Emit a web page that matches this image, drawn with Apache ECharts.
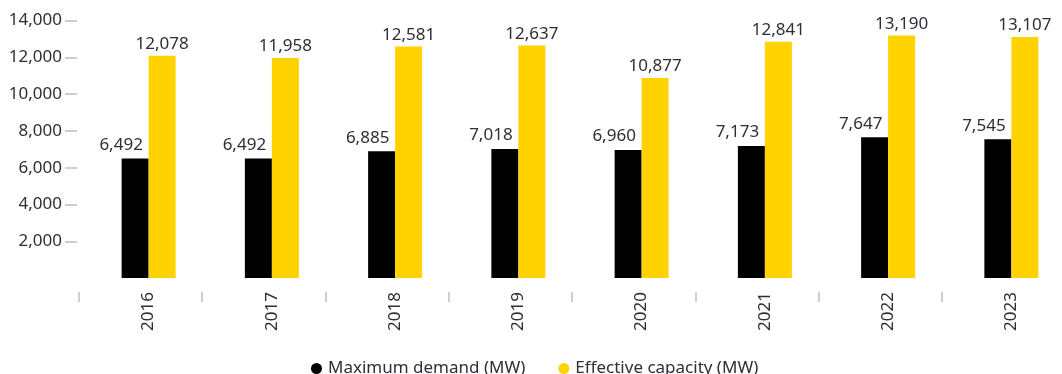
<!DOCTYPE html>
<html>
<head>
<meta charset="utf-8">
<script src="https://cdn.jsdelivr.net/npm/echarts@6/dist/echarts.min.js"></script>
<style>
  html, body { margin: 0; padding: 0; background: #fff; }
  #chart { width: 1062px; height: 374px; }
</style>
</head>
<body>
<div id="chart"></div>
<script>
// chart data
const years = ['2016', '2017', '2018', '2019', '2020', '2021', '2022', '2023']
const maxDemand = [6492, 6492, 6885, 7018, 6960, 7173, 7647, 7545]
const effCapacity = [12078, 11958, 12581, 12637, 10877, 12841, 13190, 13107]
const seriesNames = ['Maximum demand (MW)', 'Effective capacity (MW)']

const textColor = '#2e2e38'
const tickColor = '#b9c0c7'
const fontFamily = '"Noto Sans", sans-serif'

const chart = echarts.init(document.getElementById('chart'))

const fmt = v => v.toLocaleString('en-US')

chart.setOption({
  animation: false,
  textStyle: { fontFamily },
  legend: {
    data: seriesNames,
    left: 306,
    top: 355,
    icon: 'circle',
    itemWidth: 13,
    itemHeight: 11,
    itemGap: 33,
    textStyle: { fontSize: 17, color: textColor, fontFamily }
  },
  grid: [
    // bars
    { left: 87, width: 986, top: 20.5, bottom: 96, outerBoundsMode: 'none' },
    // x ticks (category boundaries)
    { left: 78.5, width: 987, top: 20.5, bottom: 82, outerBoundsMode: 'none' },
    // y ticks / labels
    { left: 77, right: 0, top: 20.5, bottom: 132.7, outerBoundsMode: 'none' }
  ],
  xAxis: [
    {
      type: 'category',
      data: years,
      gridIndex: 0,
      axisLine: { show: false },
      axisTick: { show: false },
      axisLabel: {
        rotate: 90,
        margin: 14,
        fontSize: 17,
        color: textColor,
        fontFamily
      }
    },
    {
      type: 'category',
      data: years,
      gridIndex: 1,
      axisLine: { show: false },
      axisLabel: { show: false },
      axisTick: { show: true, length: 10, lineStyle: { color: tickColor, width: 1.5 } }
    },
    {
      type: 'category',
      data: years,
      gridIndex: 2,
      show: false
    }
  ],
  yAxis: [
    { type: 'value', gridIndex: 0, min: 0, max: 14000, show: false },
    { type: 'value', gridIndex: 1, show: false },
    {
      type: 'value',
      gridIndex: 2,
      min: 2000,
      max: 14000,
      interval: 2000,
      axisLine: { show: false },
      splitLine: { show: false },
      axisTick: { show: true, length: 12, lineStyle: { color: tickColor, width: 1.5 } },
      axisLabel: {
        margin: 15,
        fontSize: 17,
        color: textColor,
        fontFamily,
        formatter: v => fmt(v)
      }
    }
  ],
  series: [
    {
      name: seriesNames[0],
      type: 'bar',
      data: maxDemand,
      xAxisIndex: 0,
      yAxisIndex: 0,
      barWidth: 27,
      barGap: '0%',
      itemStyle: { color: '#000000' },
      label: {
        show: true,
        position: 'top',
        distance: 5,
        offset: [-14, 0],
        fontSize: 17,
        color: textColor,
        fontFamily,
        formatter: p => fmt(p.value)
      }
    },
    {
      name: seriesNames[1],
      type: 'bar',
      data: effCapacity,
      xAxisIndex: 0,
      yAxisIndex: 0,
      barWidth: 27,
      barGap: '0%',
      itemStyle: { color: '#ffd200' },
      label: {
        show: true,
        position: 'top',
        distance: 3,
        fontSize: 17,
        color: textColor,
        fontFamily,
        formatter: p => fmt(p.value)
      }
    }
  ]
})

window.addEventListener('resize', () => chart.resize())
</script>
</body>
</html>
